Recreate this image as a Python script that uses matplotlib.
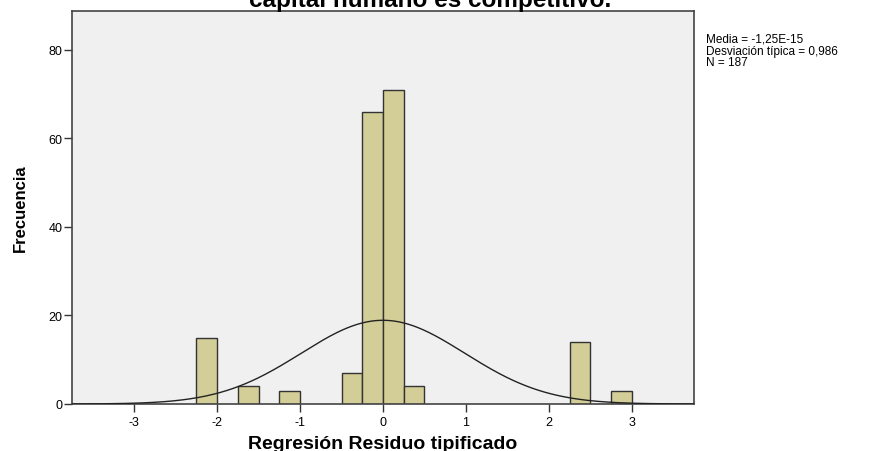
import numpy as np
import matplotlib.pyplot as plt

# Histogram bins (left edges, width 0.25) and counts
bin_left = [-2.25, -1.75, -1.25, -0.5, -0.25, 0.0, 0.25, 2.25, 2.75]
counts = [15, 4, 3, 7, 66, 71, 4, 14, 3]
bin_width = 0.25

mean = -1.25e-15
std = 0.986
n = 187

xticks = [-3, -2, -1, 0, 1, 2, 3]
yticks = [0, 20, 40, 60, 80]

plt.rcParams['font.family'] = ['Liberation Sans', 'DejaVu Sans']

fig = plt.figure(figsize=(8.86, 4.52), dpi=100)
ax = fig.add_axes([72 / 886, 1 - 405 / 452, (694 - 72) / 886, (405 - 12) / 452])
ax.set_facecolor('#F0F0F0')

ax.bar(bin_left, counts, width=bin_width, align='edge',
       color='#D3CE97', edgecolor='#333333', linewidth=1.0, zorder=2)

# Fitted normal curve
xs = np.linspace(-3.75, 3.75, 400)
ys = n * bin_width * np.exp(-0.5 * ((xs - mean) / std) ** 2) / (std * np.sqrt(2 * np.pi))
ax.plot(xs, ys, color='#222222', linewidth=1.0, zorder=3)

ax.set_xlim(-3.75, 3.75)
ax.set_ylim(0, 88.8)
ax.set_xticks(xticks)
ax.set_yticks(yticks)
ax.set_xticklabels([str(t) for t in xticks], fontsize=9)
ax.set_yticklabels([str(t) for t in yticks], fontsize=9)
ax.tick_params(direction='out', length=6, width=1, color='#333333', pad=1)
ax.tick_params(axis='x', pad=3)

for s in ax.spines.values():
    s.set_color('#444444')
    s.set_linewidth(1.2)

ax.set_xlabel('Regresión Residuo tipificado', fontsize=14, fontweight='bold', labelpad=5)
ax.set_ylabel('Frecuencia', fontsize=12, fontweight='bold',
              family=['Liberation Sans Narrow', 'Liberation Sans'], labelpad=15)

# Title cut off at the top
fig.text(430 / 886, 1 - 7 / 452, 'capital humano es competitivo.', ha='center', va='baseline',
         fontsize=17.5, fontweight='bold')

stats = 'Media = -1,25E-15\nDesviación típica = 0,986\nN = 187'
fig.text(706 / 886, 1 - 34 / 452, stats, ha='left', va='top', fontsize=8.5,
         linespacing=0.95)

plt.savefig('out.png', dpi=100)
